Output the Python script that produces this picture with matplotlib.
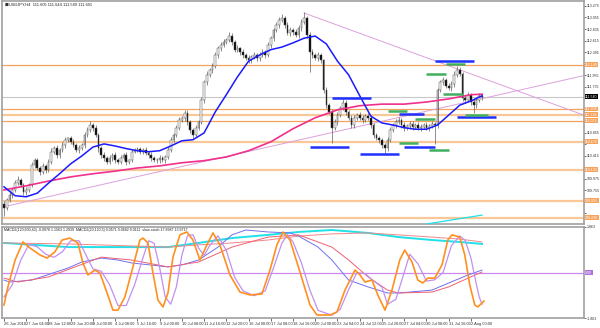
import matplotlib.pyplot as plt
import matplotlib.transforms as mtransforms
import numpy as np

# ---- price data (H4 bars) ----
first_open = 109.50
closes = [
    109.42, 109.57, 109.67, 109.76, 109.90, 109.95, 109.86, 109.72, 109.76, 109.86,
    110.24, 110.33, 110.18, 110.10, 110.22, 110.14, 110.30, 110.49, 110.56, 110.43,
    110.53, 110.62, 110.72, 110.75, 110.68, 110.62, 110.53, 110.56, 110.62, 110.81,
    110.91, 111.00, 110.95, 110.81, 110.56, 110.43, 110.37, 110.30, 110.37, 110.43,
    110.33, 110.30, 110.37, 110.43, 110.30, 110.33, 110.49, 110.53, 110.54, 110.49,
    110.53, 110.47, 110.43, 110.37, 110.33, 110.33, 110.37, 110.33, 110.39, 110.53,
    110.72, 110.81, 110.95, 111.10, 111.14, 111.23, 111.06, 110.91, 110.81, 110.95,
    111.06, 111.48, 111.82, 111.96, 112.05, 112.13, 112.34, 112.47, 112.53, 112.59,
    112.63, 112.70, 112.59, 112.44, 112.47, 112.40, 112.34, 112.28, 112.24, 112.30,
    112.34, 112.28, 112.34, 112.40, 112.34, 112.53, 112.66, 112.82, 112.91, 113.01,
    113.05, 112.91, 112.76, 112.82, 112.78, 112.72, 112.86, 112.97, 113.05, 112.72,
    112.40, 112.34, 112.28, 112.34, 112.24, 111.67, 111.38, 111.25, 110.95, 111.06,
    111.19, 111.33, 111.42, 111.25, 111.14, 111.00, 111.14, 111.19, 111.14, 111.10,
    111.17, 111.14, 111.00, 110.81, 110.75, 110.72, 110.62, 110.56, 110.72, 110.91,
    111.00, 111.06, 111.10, 111.00, 110.95, 110.98, 111.02, 110.96, 111.00, 110.95,
    110.96, 111.00, 110.95, 110.98, 111.02, 111.00, 111.67, 111.82, 111.86, 111.75,
    111.71, 111.79, 111.96, 112.05, 111.98, 111.52, 111.48, 111.58, 111.44, 111.38,
    111.48, 111.56, 111.54,
]
wick_up = [
    0.05, 0.04, 0.06, 0.03, 0.05, 0.07, 0.04, 0.03, 0.05, 0.04,
    0.06, 0.05, 0.04, 0.03, 0.06, 0.04, 0.05, 0.07, 0.04, 0.05,
    0.04, 0.06, 0.05, 0.03, 0.04, 0.05, 0.04, 0.06, 0.03, 0.05,
    0.06, 0.08, 0.04, 0.05, 0.03, 0.04, 0.05, 0.04, 0.06, 0.03,
    0.05, 0.04, 0.06, 0.04, 0.05, 0.03, 0.06, 0.04, 0.05, 0.04,
    0.03, 0.05, 0.04, 0.06, 0.03, 0.04, 0.05, 0.03, 0.04, 0.06,
    0.05, 0.04, 0.06, 0.05, 0.04, 0.06, 0.05, 0.04, 0.03, 0.05,
    0.04, 0.06, 0.05, 0.07, 0.04, 0.05, 0.06, 0.04, 0.05, 0.06,
    0.04, 0.07, 0.05, 0.04, 0.06, 0.03, 0.05, 0.04, 0.06, 0.04,
    0.05, 0.04, 0.06, 0.05, 0.04, 0.06, 0.05, 0.04, 0.06, 0.05,
    0.07, 0.04, 0.05, 0.06, 0.04, 0.05, 0.06, 0.05, 0.11, 0.04,
    0.05, 0.06, 0.04, 0.05, 0.04, 0.03, 0.05, 0.04, 0.06, 0.05,
    0.06, 0.04, 0.07, 0.05, 0.04, 0.06, 0.05, 0.04, 0.06, 0.05,
    0.04, 0.06, 0.05, 0.04, 0.03, 0.05, 0.04, 0.03, 0.05, 0.06,
    0.04, 0.05, 0.06, 0.04, 0.05, 0.04, 0.06, 0.05, 0.04, 0.05,
    0.06, 0.04, 0.05, 0.04, 0.05, 0.03, 0.04, 0.05, 0.06, 0.04,
    0.05, 0.06, 0.07, 0.08, 0.05, 0.04, 0.05, 0.06, 0.04, 0.05,
    0.04, 0.06, 0.05,
]
wick_dn = [
    0.16, 0.05, 0.04, 0.06, 0.03, 0.05, 0.04, 0.06, 0.05, 0.04,
    0.05, 0.06, 0.04, 0.05, 0.03, 0.06, 0.04, 0.05, 0.04, 0.06,
    0.05, 0.04, 0.06, 0.05, 0.04, 0.03, 0.05, 0.06, 0.04, 0.05,
    0.04, 0.05, 0.06, 0.04, 0.07, 0.05, 0.06, 0.05, 0.04, 0.05,
    0.06, 0.04, 0.05, 0.04, 0.06, 0.05, 0.04, 0.03, 0.05, 0.04,
    0.05, 0.04, 0.06, 0.05, 0.04, 0.05, 0.06, 0.04, 0.05, 0.04,
    0.05, 0.04, 0.03, 0.05, 0.04, 0.06, 0.05, 0.07, 0.05, 0.04,
    0.05, 0.04, 0.06, 0.05, 0.04, 0.05, 0.04, 0.06, 0.05, 0.04,
    0.05, 0.04, 0.06, 0.05, 0.04, 0.06, 0.05, 0.04, 0.06, 0.05,
    0.04, 0.05, 0.06, 0.04, 0.05, 0.04, 0.06, 0.05, 0.04, 0.05,
    0.05, 0.06, 0.04, 0.05, 0.06, 0.04, 0.05, 0.06, 0.04, 0.05,
    0.38, 0.05, 0.04, 0.06, 0.05, 0.06, 0.05, 0.04, 0.29, 0.05,
    0.06, 0.04, 0.05, 0.06, 0.04, 0.05, 0.06, 0.04, 0.05, 0.06,
    0.04, 0.05, 0.06, 0.05, 0.04, 0.06, 0.05, 0.09, 0.05, 0.04,
    0.05, 0.06, 0.04, 0.05, 0.06, 0.04, 0.05, 0.06, 0.04, 0.05,
    0.06, 0.04, 0.05, 0.06, 0.04, 0.36, 0.05, 0.04, 0.06, 0.05,
    0.04, 0.05, 0.06, 0.04, 0.05, 0.06, 0.05, 0.04, 0.06, 0.15,
    0.05, 0.04, 0.06,
]

# moving averages
blue_ma_x = list(range(0, 173, 4))
blue_ma = [109.82, 109.65, 109.63, 109.70, 109.89, 110.07, 110.26, 110.41, 110.58, 110.64,
           110.60, 110.55, 110.51, 110.49, 110.51, 110.60, 110.70, 110.72, 110.85, 111.25,
           111.58, 111.92, 112.22, 112.34, 112.44, 112.49, 112.57, 112.66, 112.70, 112.55,
           112.22, 111.96, 111.56, 111.17, 111.04, 111.00, 110.95, 110.92, 110.92, 111.00,
           111.19, 111.38, 111.46, 111.56]
pink_ma_x = [0, 8, 16, 24, 32, 40, 48, 56, 64, 72, 80, 88, 96, 104, 112, 120, 128, 136,
             144, 152, 160, 168, 172]
pink_ma = [109.76, 109.84, 109.93, 110.01, 110.07, 110.12, 110.18, 110.22, 110.28, 110.32,
           110.39, 110.51, 110.68, 110.93, 111.14, 111.29, 111.37, 111.40, 111.40, 111.44,
           111.50, 111.58, 111.59]
cyan_low_x = [152, 172]
cyan_low = [109.11, 109.28]

# support / resistance
levels_thin = [112.149, 111.308, 111.079]
levels_wide = [111.194, 110.678, 110.143, 109.551, 109.226]
# trend lines: (bar0, price0, bar1, price1), drawn as rays to the right
trend_lines = [(108, 113.14, 172, 111.90), (0, 109.44, 172, 111.505)]
# short marks: (start bar, end bar, price)
blue_marks = [(118, 132, 111.52), (110, 124, 110.58), (128, 142, 110.45), (142, 151, 111.21),
              (144, 155, 110.58), (163, 177, 111.16), (155, 169, 112.225)]
green_marks = [(138, 145, 111.27), (148, 155, 111.12), (142, 149, 110.66), (153, 160, 110.53),
               (166, 174, 111.19), (159, 166, 112.17), (152, 159, 111.98), (158, 165, 111.59)]

# ---- oscillator window ----
macd_slow_x = [0, 23, 59, 70, 82, 95, 106, 118, 131, 142, 154, 164, 172]
macd_slow_main = [1.21, 1.04, 1.04, 1.21, 1.41, 1.54, 1.66, 1.74, 1.62, 1.45, 1.33, 1.25, 1.17]
macd_slow_sig = [1.21, 1.17, 1.04, 1.13, 1.21, 1.33, 1.49, 1.58, 1.62, 1.54, 1.45, 1.37, 1.25]
macd_fast_x = [0, 2, 10, 23, 28, 35, 41, 46, 59, 64, 70, 77, 82, 87, 95, 103, 106, 113, 118,
               124, 131, 138, 142, 154, 160, 167, 172]
macd_fast_main = [-0.31, -0.39, -0.31, 0.18, 0.43, 0.59, 0.51, 0.39, 0.23, 0.31, 0.51, 1.04,
                  1.54, 1.74, 1.66, 1.62, 1.49, 1.04, 0.51, -0.31, -0.59, -0.84, -0.84, -0.72,
                  -0.43, -0.10, 0.10]
macd_fast_sig_x = [0, 5, 16, 35, 46, 59, 70, 82, 95, 106, 118, 124, 131, 138, 142, 154, 160, 167, 172]
macd_fast_sig = [-0.23, -0.39, -0.18, 0.63, 0.51, 0.23, 0.43, 1.04, 1.45, 1.54, 1.04, 0.51,
                 -0.18, -0.72, -0.84, -0.80, -0.59, -0.23, 0.02]
stoch_x = [0, 1.4, 4.0, 6.8, 9.4, 12.9, 15.5, 18.3, 20.9, 23.7, 26.6, 28.4, 30.2, 32.7, 34.5,
           37.1, 39.2, 41.0, 43.5, 46.4, 48.9, 50.0, 51.8, 53.6, 55.4, 57.2, 59.0, 60.8, 63.3,
           65.8, 68.0, 70.5, 73.0, 75.2, 77.7, 81.3, 84.9, 88.5, 92.8, 95.7, 98.2, 100.4,
           102.9, 106.5, 110.1, 112.6, 117.3, 119.8, 122.7, 126.3, 128.1, 129.9, 132.4, 134.5,
           137.1, 139.6, 142.4, 144.2, 146.8, 148.9, 150.7, 152.5, 155.0, 157.6, 159.7, 161.2,
           164.0, 165.8, 167.6, 169.4, 170.5, 172.7]
stoch_main = [-1.33, -0.59, 0.51, 1.25, 1.00, 0.72, 0.59, 0.84, 1.33, 1.41, 1.21, 0.39, -0.10,
              0.10, -0.02, -0.84, -1.54, -1.54, -1.00, 0.23, 1.33, 1.41, 1.21, -0.02, -1.13,
              -1.41, -0.84, 0.63, 1.54, 1.66, 1.33, 0.51, 1.13, 1.62, 1.13, -0.10, -0.80, -0.92,
              -0.88, 0.10, 1.13, 1.66, 1.33, 0.02, -1.33, -1.74, -1.74, -1.62, -0.72, 0.10,
              -0.10, -0.39, -0.31, -0.92, -1.54, -0.72, 0.51, 0.92, 0.43, -0.31, -0.43, -0.23,
              -0.23, 0.31, 1.33, 1.54, 1.45, 0.72, -0.51, -1.33, -1.41, -1.17]
stoch_sig_x = [0, 3, 6, 9, 12, 15, 18, 21, 24, 27, 30, 32, 35, 38, 41, 44, 47, 50, 52, 54, 56,
               58, 60, 62, 64, 66, 68, 70, 72, 74, 77, 80, 83, 86, 90, 94, 97, 100, 102, 104,
               107, 110, 113, 118, 121, 124, 127, 130, 133, 136, 138, 141, 144, 146, 149, 152,
               155, 158, 161, 164, 166, 168, 170, 171, 172]
stoch_sig = [-1.0, -0.5, 0.5, 1.15, 1.05, 0.75, 0.62, 0.85, 1.30, 1.30, 0.6, 0.15, 0.05, -0.5,
             -1.35, -1.35, -0.5, 0.6, 1.3, 1.2, 0.2, -1.0, -1.3, -0.6, 0.7, 1.5, 1.55, 1.0, 0.7,
             1.1, 1.5, 0.9, -0.2, -0.75, -0.95, -0.75, 0.2, 1.2, 1.55, 1.25, 0.4, -0.7, -1.55,
             -1.75, -1.5, -0.7, 0.0, -0.05, -0.35, -0.6, -1.3, -1.1, 0.0, 0.75, 0.35, -0.35,
             -0.3, 0.0, 1.1, 1.5, 1.3, 0.6, -0.5, -1.0, -1.3]

time_labels = ["26 Jun 2018", "27 Jun 04:00", "28 Jun 12:00", "29 Jun 20:00", "3 Jul 00:00",
               "4 Jul 08:00", "5 Jul 16:00", "9 Jul 00:00", "10 Jul 08:00", "11 Jul 16:00",
               "12 Jul 20:00", "16 Jul 00:00", "17 Jul 08:00", "18 Jul 16:00", "20 Jul 00:00",
               "23 Jul 04:00", "24 Jul 12:00", "25 Jul 20:00", "27 Jul 04:00", "30 Jul 08:00",
               "31 Jul 16:00", "2 Aug 00:00"]

header = "USDJPY,H4  111.605 111.644 111.549 111.601"
osc_header = ("MACD2(120,600,40) -0.0978 1.1563 1.2939  MACD2(20,120,5) 0.0571 0.0682 0.0111"
              "  slow-stoch 17.8987 13.9717")

plt.rcParams['font.family'] = ['Liberation Sans Narrow', 'Liberation Sans', 'DejaVu Sans']
FS = 2.9
FS_R = 2.6
FRAME = '#a0a0a0'
XMIN, XMAX = -0.72, 208.7

fig = plt.figure(figsize=(6, 3.28), dpi=100)
ax = fig.add_axes([2 / 600, 1 - 224 / 328, 582 / 600, 223 / 328])
axo = fig.add_axes([2 / 600, 1 - 318 / 328, 582 / 600, 91 / 328])

# ---- main window ----
n = len(closes)
idx = np.arange(n)
c = np.array(closes)
o = np.array([first_open] + closes[:-1])
hi = np.maximum(o, c) + np.array(wick_up)
lo = np.minimum(o, c) - np.array(wick_dn)

for lv in levels_wide:
    ax.axhline(lv, color='#f9c896', lw=1.6, zorder=1)
for lv in levels_thin:
    ax.axhline(lv, color='#f3a35a', lw=0.9, zorder=1)
ax.axhline(c[-1], color='#c8c8c8', lw=0.8, zorder=1)

for b0, p0, b1, p1 in trend_lines:
    slope = (p1 - p0) / (b1 - b0)
    ax.plot([b0, XMAX], [p0, p0 + slope * (XMAX - b0)], color='#dca0dc', lw=0.7, zorder=2)

ax.vlines(idx, lo, hi, color='#606060', lw=0.5, zorder=3)
bull = c >= o
heights = np.maximum(np.abs(c - o), 0.008)
ax.bar(idx, heights, bottom=np.minimum(o, c), width=0.62,
       color=np.where(bull, 'white', 'black'), edgecolor='#505050', linewidth=0.35, zorder=4)

ax.plot(pink_ma_x, pink_ma, color='#f0308c', lw=1.2, zorder=5)
ax.plot(blue_ma_x, blue_ma, color='#1a1aff', lw=1.1, zorder=5)
ax.plot(cyan_low_x, cyan_low, color='#20e0e8', lw=0.9, zorder=5)

for b0, b1, p in blue_marks:
    ax.plot([b0, b1], [p, p], color='#2030ff', lw=1.8, solid_capstyle='butt', zorder=6)
for b0, b1, p in green_marks:
    ax.plot([b0, b1], [p, p], color='#40b060', lw=1.8, solid_capstyle='butt', zorder=6)

ax.set_xlim(XMIN, XMAX)
ax.set_ylim(109.11, 113.37)
ax.yaxis.tick_right()
boxed = levels_thin + levels_wide + [c[-1]]
price_ticks = [113.275 - 0.22 * k for k in range(19)]
ax.set_yticks(price_ticks)
ax.set_yticklabels(["" if min(abs(v - b) for b in boxed) < 0.11 else f"{v:.3f}"
                    for v in price_ticks])
ax.tick_params(axis='y', labelsize=FS_R, length=1.5, width=0.5, pad=0.6, colors='#333333')
ax.set_xticks([])

tr = mtransforms.blended_transform_factory(ax.transAxes, ax.transData)
for lv in levels_thin + levels_wide:
    ax.text(1.002, lv, f"{lv:.3f}", transform=tr, ha='left', va='center', fontsize=FS_R,
            color='white', bbox=dict(boxstyle='square,pad=0.12', fc='#f7a35c', ec='none'),
            zorder=10, clip_on=False)
ax.text(1.002, c[-1], f"{c[-1]:.3f}", transform=tr, ha='left', va='center', fontsize=FS_R,
        color='white', bbox=dict(boxstyle='square,pad=0.12', fc='black', ec='none'),
        zorder=10, clip_on=False)
ax.text(0.012, 0.992, header, transform=ax.transAxes, ha='left', va='top', fontsize=FS,
        color='#222222')
ax.text(0.004, 0.992, "\u25a0", transform=ax.transAxes, ha='left', va='top', fontsize=FS,
        color='#333333', family='DejaVu Sans')

# ---- oscillator window ----
axo.axhline(0, color='#cc88ee', lw=0.9, zorder=1)
axo.plot(macd_slow_x, macd_slow_main, color='#20e0e8', lw=1.4, zorder=2)
axo.plot(macd_slow_x, macd_slow_sig, color='#f08888', lw=0.7, zorder=2)
axo.plot(macd_fast_x, macd_fast_main, color='#7070f0', lw=0.7, zorder=3)
axo.plot(macd_fast_sig_x, macd_fast_sig, color='#f06070', lw=0.7, zorder=3)
axo.plot(stoch_sig_x, stoch_sig, color='#c090f0', lw=0.9, zorder=4)
axo.plot(stoch_x, stoch_main, color='#ff9020', lw=1.2, zorder=5)

axo.set_xlim(XMIN, XMAX)
axo.set_ylim(-1.863, 1.863)
axo.yaxis.tick_right()
axo.set_yticks([1.863, -1.863])
axo.set_yticklabels(["1.863", "-1.863"])
axo.tick_params(axis='y', labelsize=FS_R, length=1.5, width=0.5, pad=0.6, colors='#333333')
axo.text(1.002, 0, "0.00", transform=mtransforms.blended_transform_factory(axo.transAxes, axo.transData),
         ha='left', va='center', fontsize=FS_R, color='white',
         bbox=dict(boxstyle='square,pad=0.12', fc='#b070e0', ec='none'), clip_on=False)
axo.text(0.004, 0.985, osc_header, transform=axo.transAxes, ha='left', va='top', fontsize=FS - 0.3,
         color='#222222')

tick_pos = [8 * k for k in range(len(time_labels))]
axo.set_xticks(tick_pos)
axo.set_xticklabels(time_labels, ha='left')
axo.tick_params(axis='x', labelsize=FS, length=2, width=0.5, pad=1, colors='#333333')

for a in (ax, axo):
    for s in a.spines.values():
        s.set_color(FRAME)
        s.set_linewidth(1.2)

fig.savefig('out.png', dpi=100, facecolor='white')
